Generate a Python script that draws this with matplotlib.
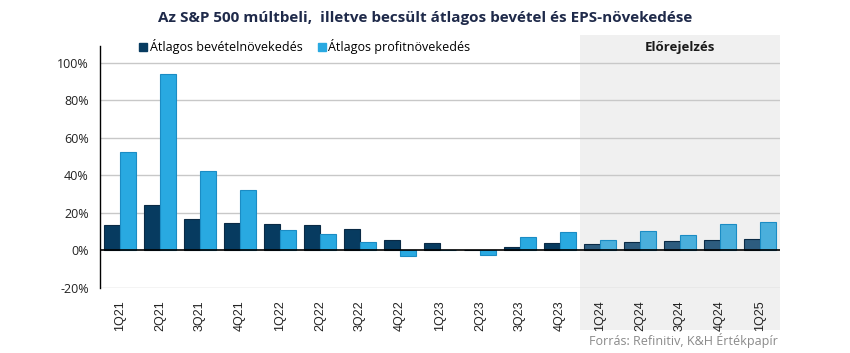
import matplotlib
matplotlib.use("Agg")
import matplotlib.pyplot as plt
import numpy as np
from matplotlib.patches import Rectangle
from matplotlib.transforms import blended_transform_factory
from matplotlib.lines import Line2D

categories = ["1Q21", "2Q21", "3Q21", "4Q21", "1Q22", "2Q22", "3Q22", "4Q22",
              "1Q23", "2Q23", "3Q23", "4Q23", "1Q24", "2Q24", "3Q24", "4Q24", "1Q25"]
revenue = [13.4, 24.0, 17.0, 14.9, 14.0, 13.4, 11.6, 5.7,
           3.8, 0.5, 1.6, 3.8, 3.2, 4.3, 4.8, 5.4, 5.9]
profit = [52.5, 94.0, 42.3, 32.0, 11.1, 8.6, 4.3, -3.0,
          0.5, -2.5, 7.4, 9.7, 5.4, 10.2, 8.1, 14.0, 15.0]
forecast_start = 12
yticks = [-20, 0, 20, 40, 60, 80, 100]

fig = plt.figure(figsize=(8.5, 3.53), dpi=100)
ax = fig.add_axes([100/850, 1 - 288/353, 680/850, (288 - 46)/353])
ax.patch.set_alpha(0)

n = len(categories)
x = np.arange(n)
w = 0.4

dark_hist, light_hist = "#073b60", "#29a9e1"
dark_fc, light_fc = "#2d5c7f", "#4aafdc"
for i in range(n):
    fc = i >= forecast_start
    ax.bar(x[i] - w/2, revenue[i], w, color=dark_fc if fc else dark_hist,
           edgecolor="#0a2a45", linewidth=0.8, zorder=3)
    ax.bar(x[i] + w/2, profit[i], w, color=light_fc if fc else light_hist,
           edgecolor="#1b8cc4", linewidth=0.8, zorder=3)

ax.set_xlim(-0.5, n - 0.5)
ax.set_ylim(-20, 109)
ax.set_yticks(yticks)
ax.set_yticklabels([f"{v}%" for v in yticks], fontsize=9, family="Open Sans", color="#222222")
ax.set_xticks(x)
ax.set_xticklabels(categories, rotation=90, fontsize=9, family="Liberation Sans", color="#222222")
ax.tick_params(axis="y", length=0, pad=8)
ax.tick_params(axis="x", length=0, pad=9)

for v in yticks:
    if v != 0:
        ax.axhline(v, color="#c8c8c8", linewidth=1, zorder=1)
ax.axhline(0, color="#000000", linewidth=1.2, zorder=4)

for s in ["top", "right", "bottom"]:
    ax.spines[s].set_visible(False)
ax.spines["left"].set_color("#000000")
ax.spines["left"].set_linewidth(1)

# forecast shading spanning from legend row down to below tick labels
x0 = forecast_start - 0.5
tr = blended_transform_factory(ax.transData, fig.transFigure)
fig.patches.append(Rectangle((x0, 1 - 330/353), n - 0.5 - x0, (330 - 35)/353,
                             transform=tr, facecolor="#f0f0f0", edgecolor="none",
                             zorder=-1, figure=fig))

ax.text((x0 + n - 0.5) / 2, 1 - 47/353, "Előrejelzés", transform=tr, ha="center",
        va="center", fontsize=9.5, fontweight="bold", family="Open Sans", color="#1a1a1a")

fig.text(0.5, 1 - 18/353, "Az S&P 500 múltbeli,  illetve becsült átlagos bevétel és EPS-növekedése",
         ha="center", va="center", fontsize=11, fontweight="bold", family="Open Sans",
         color="#1f2a4a")

handles = [Line2D([], [], marker="s", linestyle="none", markersize=6, color=dark_hist),
           Line2D([], [], marker="s", linestyle="none", markersize=6, color=light_hist)]
fig.legend(handles, ["Átlagos bevételnövekedés", "Átlagos profitnövekedés"],
           loc="center left", bbox_to_anchor=(127/850, 1 - 47/353), ncol=2, frameon=False,
           handletextpad=0.1, columnspacing=1.2, handlelength=0.8,
           prop={"family": "Open Sans", "size": 9})

fig.text(778/850, 1 - 341/353, "Forrás: Refinitiv, K&H Értékpapír", ha="right", va="center",
         fontsize=9, family="Open Sans", color="#8a8a8a")

fig.savefig("out.png", dpi=100)
